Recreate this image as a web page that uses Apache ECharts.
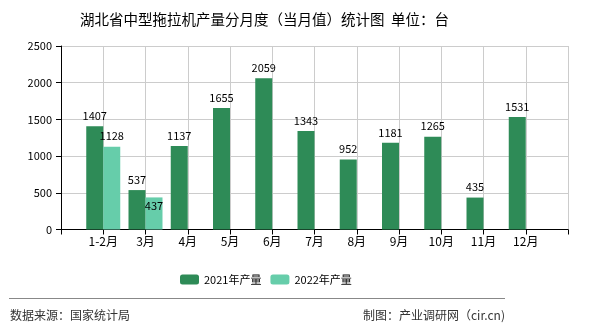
<!DOCTYPE html>
<html><head><meta charset="utf-8">
<script src="https://cdn.jsdelivr.net/npm/echarts@6/dist/echarts.min.js"></script>
<style>html,body{margin:0;padding:0;background:#fff}#c{width:590px;height:330px}</style>
</head><body><div id="c"></div>
<script>
var categories = ["", "1-2月", "3月", "4月", "5月", "6月", "7月", "8月", "9月", "10月", "11月", "12月", ""];
var values2021 = [null, 1407, 537, 1137, 1655, 2059, 1343, 952, 1181, 1265, 435, 1531, null];
var values2022 = [null, 1128, 437, null, null, null, null, null, null, null, null, null, null];
var seriesNames = ["2021年产量", "2022年产量"];
var yTicks = [0, 500, 1000, 1500, 2000, 2500];

var font = '"Noto Sans CJK SC", "DejaVu Sans", sans-serif';
var chart = echarts.init(document.getElementById('c'));
var d2022 = values2022.map(function (v, i) {
  if (v === 437) return { value: v, label: { offset: [0, 19] } };
  return v;
});
chart.setOption({
  animation: false,
  textStyle: { fontFamily: font },
  title: {
    text: '湖北省中型拖拉机产量分月度（当月值）统计图  单位：台',
    left: 75, top: 7,
    textStyle: { fontSize: 14.5, fontWeight: 'normal', color: '#000', fontFamily: font }
  },
  legend: {
    data: seriesNames, left: 175, top: 269, itemWidth: 19, itemHeight: 10, itemGap: 9,
    textStyle: { fontSize: 11, color: '#000', fontFamily: font }
  },
  grid: { left: 61, right: 22, top: 46, bottom: 100.5, containLabel: false },
  xAxis: {
    type: 'category', data: categories, boundaryGap: false,
    axisLine: { lineStyle: { color: '#000', width: 1 } },
    axisTick: { show: true, length: 5, lineStyle: { color: '#000' } },
    axisLabel: { color: '#000', fontSize: 12, margin: 6, fontFamily: font },
    splitLine: { show: true, lineStyle: { color: '#ccc' } }
  },
  yAxis: {
    type: 'value', min: yTicks[0], max: yTicks[yTicks.length - 1], interval: 500,
    axisLine: { show: true, lineStyle: { color: '#000' } },
    axisTick: { show: true, length: 5, lineStyle: { color: '#000' } },
    axisLabel: { color: '#000', fontSize: 11, margin: 9, fontFamily: font, formatter: function (v) { return String(v); } },
    splitLine: { lineStyle: { color: '#ccc' } }
  },
  series: [
    { name: seriesNames[0], type: 'bar', data: values2021, barWidth: 17, barGap: '0%',
      itemStyle: { color: '#2e8b57' },
      label: { show: true, position: 'top', distance: 5, color: '#000', fontSize: 11, fontFamily: font } },
    { name: seriesNames[1], type: 'bar', data: d2022, barWidth: 17, barGap: '0%',
      itemStyle: { color: '#66cdaa' },
      label: { show: true, position: 'top', distance: 5, color: '#000', fontSize: 11, fontFamily: font } }
  ],
  graphic: [
    { type: 'line', shape: { x1: 9, y1: 298.5, x2: 505, y2: 298.5 }, style: { stroke: '#888', lineWidth: 1 } },
    { type: 'text', left: 10, top: 309, style: { text: '数据来源：国家统计局', fill: '#333', font: '12px ' + font } },
    { type: 'text', right: 85, top: 309, style: { text: '制图：产业调研网（cir.cn)', fill: '#333', font: '12px ' + font } }
  ]
});
</script></body></html>
